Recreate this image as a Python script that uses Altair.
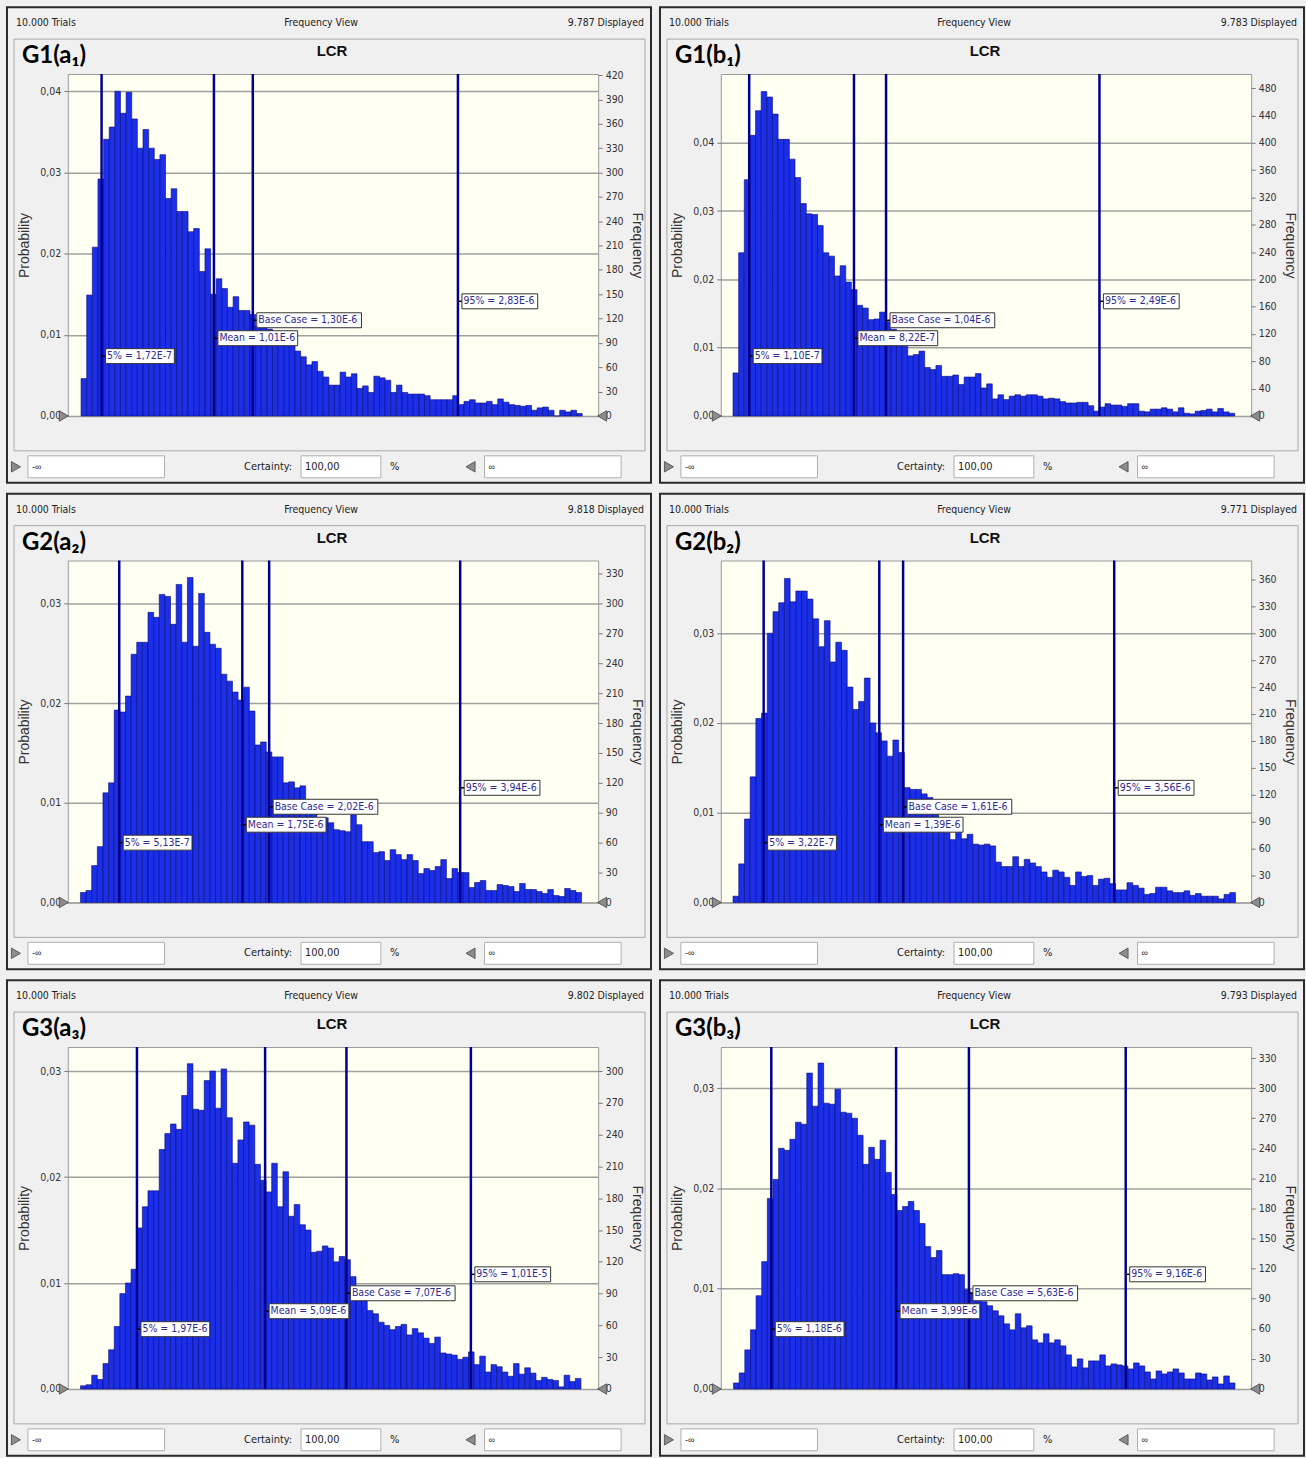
import altair as alt
import pandas as pd

# ---------------- data (frequencies per bin) ----------------
names = ["G1(a\u2081)", "G1(b\u2081)", "G2(a\u2082)", "G2(b\u2082)", "G3(a\u2083)", "G3(b\u2083)"]
displayed = ["9.787 Displayed", "9.783 Displayed", "9.818 Displayed",
             "9.771 Displayed", "9.802 Displayed", "9.793 Displayed"]

a1_freq = [46, 149, 208, 292, 341, 356, 400, 373, 399, 366,
           330, 353, 330, 316, 322, 268, 280, 252, 252, 227,
           231, 178, 206, 150, 169, 157, 134, 147, 130, 130,
           125, 111, 111, 107, 102, 98, 90, 89, 80, 73,
           63, 67, 55, 48, 38, 38, 54, 48, 52, 34,
           37, 29, 49, 47, 44, 29, 38, 29, 27, 27,
           27, 25, 20, 20, 20, 20, 25, 14, 18, 20,
           16, 16, 18, 14, 21, 17, 14, 13, 12, 13,
           7, 10, 11, 7, 0, 7, 5, 7, 3]
b1_freq = [63, 239, 346, 411, 447, 475, 467, 442, 405, 405,
           376, 349, 311, 296, 295, 279, 239, 234, 205, 220,
           196, 185, 162, 158, 141, 142, 152, 138, 127, 113,
           102, 88, 90, 95, 71, 68, 74, 58, 58, 60,
           46, 57, 57, 62, 41, 47, 25, 31, 24, 29,
           31, 29, 31, 31, 29, 25, 26, 25, 21, 19,
           19, 20, 20, 15, 7, 13, 18, 16, 16, 14,
           18, 18, 7, 6, 10, 10, 12, 10, 6, 12,
           4, 3, 7, 8, 10, 6, 11, 6, 4]
a2_freq = [10, 12, 37, 56, 110, 120, 193, 191, 207, 249,
           261, 261, 291, 286, 309, 307, 279, 319, 261, 326,
           257, 310, 271, 259, 255, 229, 222, 211, 203, 216,
           192, 158, 161, 151, 146, 146, 120, 121, 115, 117,
           93, 90, 85, 85, 80, 73, 72, 71, 88, 78,
           61, 61, 50, 51, 42, 53, 48, 43, 48, 42,
           29, 34, 32, 36, 43, 24, 34, 30, 30, 15,
           20, 22, 12, 12, 18, 17, 16, 11, 19, 13,
           13, 11, 9, 13, 7, 6, 14, 12, 10]
b2_freq = [7, 43, 93, 140, 205, 211, 300, 324, 334, 361,
           335, 347, 347, 338, 316, 285, 314, 268, 290, 281,
           240, 215, 224, 250, 200, 189, 180, 163, 181, 167,
           128, 126, 126, 121, 117, 100, 89, 78, 70, 80,
           71, 76, 65, 64, 65, 63, 45, 40, 40, 51,
           40, 48, 44, 40, 34, 28, 36, 34, 28, 19,
           34, 29, 30, 19, 26, 27, 21, 14, 14, 22,
           19, 16, 9, 10, 17, 17, 13, 11, 11, 13,
           8, 10, 7, 7, 7, 4, 9, 11]
a3_freq = [3, 4, 13, 9, 24, 37, 59, 90, 100, 113,
           152, 172, 187, 187, 226, 241, 250, 245, 277, 307,
           264, 263, 291, 300, 265, 302, 256, 213, 235, 252,
           249, 212, 197, 186, 213, 172, 205, 163, 174, 155,
           150, 129, 130, 135, 133, 120, 125, 122, 106, 95,
           84, 74, 71, 63, 60, 56, 59, 61, 51, 57,
           53, 48, 43, 49, 34, 33, 32, 28, 30, 35,
           23, 31, 16, 23, 21, 16, 12, 24, 14, 20,
           15, 8, 11, 9, 8, 2, 13, 7, 10]
b3_freq = [6, 16, 39, 59, 93, 127, 190, 209, 240, 238,
           249, 266, 264, 315, 282, 325, 285, 284, 299, 276,
           275, 270, 253, 224, 241, 229, 248, 216, 194, 178,
           182, 187, 178, 165, 142, 131, 138, 114, 114, 115,
           114, 99, 96, 93, 87, 83, 78, 73, 65, 59,
           75, 61, 63, 49, 46, 55, 46, 49, 43, 34,
           22, 30, 21, 28, 28, 34, 23, 25, 24, 23,
           20, 26, 23, 17, 10, 18, 15, 17, 20, 16,
           10, 10, 16, 15, 9, 12, 5, 13, 6]

# bin range (first bin start, last bin end), in units of 1E-6
bin_range = [(0.019, 3.757), (0.0, 3.409), (0.123, 5.16),
             (0.039, 4.68), (0.595, 12.78), (0.33, 11.62)]
# visible x range of each plot, units of 1E-6
x_domain = [(-0.08, 3.876), (-0.083, 3.521), (-0.004, 5.327),
            (-0.074, 4.825), (0.286, 13.199), (0.043, 11.985)]
y_max = [421.4, 500.7, 343.0, 381.0, 322.7, 341.0]
x_ticks = [[0, 1, 2, 3], [0, 1, 2, 3], [1, 2, 3, 4, 5],
           [0, 1, 2, 3, 4], [2, 4, 6, 8, 10, 12], [2, 4, 6, 8, 10]]
prob_ticks = [[0, 100, 200, 300, 400], [0, 100, 200, 300, 400], [0, 100, 200, 300],
              [0, 100, 200, 300], [0, 100, 200, 300], [0, 100, 200, 300]]
freq_ticks = [list(range(0, 421, 30)), list(range(0, 481, 40)), list(range(0, 331, 30)),
              list(range(0, 361, 30)), list(range(0, 301, 30)), list(range(0, 331, 30))]

# statistics: 5%, Mean, Base Case, 95%  (units of 1E-6)
stat_values = [[0.172, 1.01, 1.30, 2.83], [0.110, 0.822, 1.04, 2.49],
               [0.513, 1.75, 2.02, 3.94], [0.322, 1.39, 1.61, 3.56],
               [1.97, 5.09, 7.07, 10.1], [1.18, 3.99, 5.63, 9.16]]
stat_labels = [["5% = 1,72E-7", "Mean = 1,01E-6", "Base Case = 1,30E-6", "95% = 2,83E-6"],
               ["5% = 1,10E-7", "Mean = 8,22E-7", "Base Case = 1,04E-6", "95% = 2,49E-6"],
               ["5% = 5,13E-7", "Mean = 1,75E-6", "Base Case = 2,02E-6", "95% = 3,94E-6"],
               ["5% = 3,22E-7", "Mean = 1,39E-6", "Base Case = 1,61E-6", "95% = 3,56E-6"],
               ["5% = 1,97E-6", "Mean = 5,09E-6", "Base Case = 7,07E-6", "95% = 1,01E-5"],
               ["5% = 1,18E-6", "Mean = 3,99E-6", "Base Case = 5,63E-6", "95% = 9,16E-6"]]
freqs = [a1_freq, b1_freq, a2_freq, b2_freq, a3_freq, b3_freq]

# ---------------- styles ----------------
W, H = 532, 343
NARROW = "Liberation Sans Narrow, DejaVu Sans Condensed, Arial Narrow, sans-serif"
SANS = "Liberation Sans, Arial, sans-serif"
BAR = "#1B2EE8"
EDGE = "#0A0A7A"
LINE = "#00008F"
LABEL_COL = "#2E2A8F"
LABEL_W = [69, 80, 105, 76]
LABEL_Y = [283, 265, 247, 228]
TOP, BOT = -67, H + 67
ONE = alt.Data(values=[{"k": 1}])


def box(x1, x2, y1, y2, **kw):
    return alt.Chart(ONE).mark_rect(**kw).encode(
        x=alt.value(x1), x2=alt.value(x2), y=alt.value(y1), y2=alt.value(y2))


def txt(x, y, s, **kw):
    return alt.Chart(ONE).mark_text(text=s, **kw).encode(x=alt.value(x), y=alt.value(y))


def tri(x, y, shape):
    return alt.Chart(ONE).mark_point(shape=shape, filled=True, size=110, fill="#8C8C8C",
                                     stroke="#454545", strokeWidth=0.8, opacity=1).encode(
        x=alt.value(x), y=alt.value(y))


def panel(i):
    fr = freqs[i]
    n = len(fr)
    b0, b1 = bin_range[i]
    bw = (b1 - b0) / n
    df = pd.DataFrame({"x0": [b0 + k * bw for k in range(n)],
                       "x1": [b0 + (k + 1) * bw for k in range(n)],
                       "freq": fr})
    xs = alt.Scale(domain=list(x_domain[i]), nice=False, zero=False)
    ys = alt.Scale(domain=[0, y_max[i]], nice=False, zero=False)

    layers = []
    # frame / inner box
    layers.append(box(-61, W + 53, TOP, BOT, fillOpacity=0, stroke="#2A2A2A", strokeWidth=2))
    layers.append(box(-54, W + 47, -35, H + 35, fillOpacity=0, stroke="#A8A8A8", strokeWidth=1))
    # header
    layers.append(txt(-52, -51, "10.000 Trials", font=NARROW, fontSize=10.5, align="left",
                      baseline="middle", color="#222"))
    layers.append(txt(254, -51, "Frequency View", font=NARROW, fontSize=10.5, align="center",
                      baseline="middle", color="#222"))
    layers.append(txt(W + 46, -51, displayed[i], font=NARROW, fontSize=10.5, align="right",
                      baseline="middle", color="#222"))
    layers.append(txt(265, -23, "LCR", font=SANS, fontSize=15, fontWeight="bold",
                      align="center", baseline="middle", color="#111"))
    layers.append(txt(-46, -18, names[i], font="Lato, Open Sans, sans-serif", fontSize=24,
                      fontWeight="bold", align="left", baseline="middle", color="#000"))
    # bottom certainty row
    layers.append(tri(-52, H + 51, "triangle-right"))
    layers.append(box(-40, 97, H + 40, H + 62, fill="white", stroke="#B0B0B0", strokeWidth=1))
    layers.append(txt(-36, H + 51, "-\u221e", font=SANS, fontSize=9, align="left",
                      baseline="middle", color="#222"))
    layers.append(txt(225, H + 51, "Certainty:", font=NARROW, fontSize=11, align="right",
                      baseline="middle", color="#222"))
    layers.append(box(234, 314, H + 40, H + 62, fill="white", stroke="#B0B0B0", strokeWidth=1))
    layers.append(txt(238, H + 51, "100,00", font=NARROW, fontSize=11, align="left",
                      baseline="middle", color="#222"))
    layers.append(txt(328, H + 51, "%", font=NARROW, fontSize=11, align="center",
                      baseline="middle", color="#222"))
    layers.append(tri(404, H + 51, "triangle-left"))
    layers.append(box(418, 555, H + 40, H + 62, fill="white", stroke="#B0B0B0", strokeWidth=1))
    layers.append(txt(422, H + 51, "\u221e", font=SANS, fontSize=9, align="left",
                      baseline="middle", color="#222"))

    # histogram bars
    bars = alt.Chart(df).mark_rect(fill=BAR, stroke=EDGE, strokeWidth=0.6).encode(
        x=alt.X("x0:Q", scale=xs, axis=alt.Axis(
            values=x_ticks[i],
            labelExpr="replace(replace(format(datum.value*1e-6,'.2e'),'.',','),'e','E')",
            title=None, grid=False, domain=False, tickSize=4, tickColor="#777",
            labelFont=NARROW, labelFontSize=10.5, labelColor="#333", labelPadding=5)),
        x2="x1:Q",
        y=alt.Y("freq:Q", scale=ys, axis=alt.Axis(
            orient="left", values=prob_ticks[i],
            labelExpr="replace(format(datum.value/10000,'.2f'),'.',',')",
            title="Probability", titleFont=SANS, titleFontSize=14, titleFontWeight="normal",
            titleColor="#333", titlePadding=8,
            grid=True, gridColor="#A0A0A0", gridWidth=1.5, domain=False,
            tickSize=4, tickColor="#777", labelFont=NARROW, labelFontSize=10.5,
            labelColor="#333", labelPadding=3)),
        y2=alt.datum(0),
    )
    layers.append(bars)

    # right frequency axis
    raxis = alt.Chart(df).mark_point(opacity=0).encode(
        y=alt.Y("freq:Q", scale=ys, axis=alt.Axis(
            orient="right", values=freq_ticks[i], format="d",
            title="Frequency", titleFont=SANS, titleFontSize=14, titleFontWeight="normal",
            titleColor="#333", titlePadding=6, grid=False, domain=False,
            tickSize=4, tickColor="#777", labelFont=NARROW, labelFontSize=10.5,
            labelColor="#333", labelPadding=3)))
    layers.append(raxis)

    # plot-end markers
    layers.append(tri(-4, H, "triangle-right"))
    layers.append(tri(W + 4, H, "triangle-left"))

    # statistic lines
    sdf = pd.DataFrame({"v": stat_values[i], "lab": stat_labels[i]})
    layers.append(alt.Chart(sdf).mark_rule(color=LINE, strokeWidth=2.5).encode(
        x=alt.X("v:Q", scale=xs, axis=None)))
    for k in range(4):
        d = sdf.iloc[[k]]
        cy = LABEL_Y[k]
        layers.append(alt.Chart(d).mark_rule(color="#000", strokeWidth=1.5, x2Offset=5).encode(
            x=alt.X("v:Q", scale=xs, axis=None), x2="v:Q", y=alt.value(cy)))
        layers.append(alt.Chart(d).mark_rect(fill="white", stroke="#333", strokeWidth=1,
                                             xOffset=4, x2Offset=4 + LABEL_W[k]).encode(
            x=alt.X("v:Q", scale=xs, axis=None), x2="v:Q",
            y=alt.value(cy - 7.5), y2=alt.value(cy + 7.5)))
        layers.append(alt.Chart(d).mark_text(align="left", baseline="middle", dx=5.5,
                                             font=NARROW, fontSize=10.5, color=LABEL_COL).encode(
            x=alt.X("v:Q", scale=xs, axis=None), y=alt.value(cy), text="lab:N"))

    return alt.layer(*layers).resolve_scale(y="independent").properties(width=W, height=H)


rows = [alt.hconcat(panel(0), panel(1), spacing=5),
        alt.hconcat(panel(2), panel(3), spacing=5),
        alt.hconcat(panel(4), panel(5), spacing=5)]

chart = alt.vconcat(*rows, spacing=7).properties(
    background="#F0F0F0",
    padding={"left": 5, "top": 3, "right": 0, "bottom": 0},
).configure_view(fill="#FFFFF2", stroke="#9A9A9A", strokeWidth=1)

chart.save("out.html", embed_options={"renderer": "svg", "actions": False})
